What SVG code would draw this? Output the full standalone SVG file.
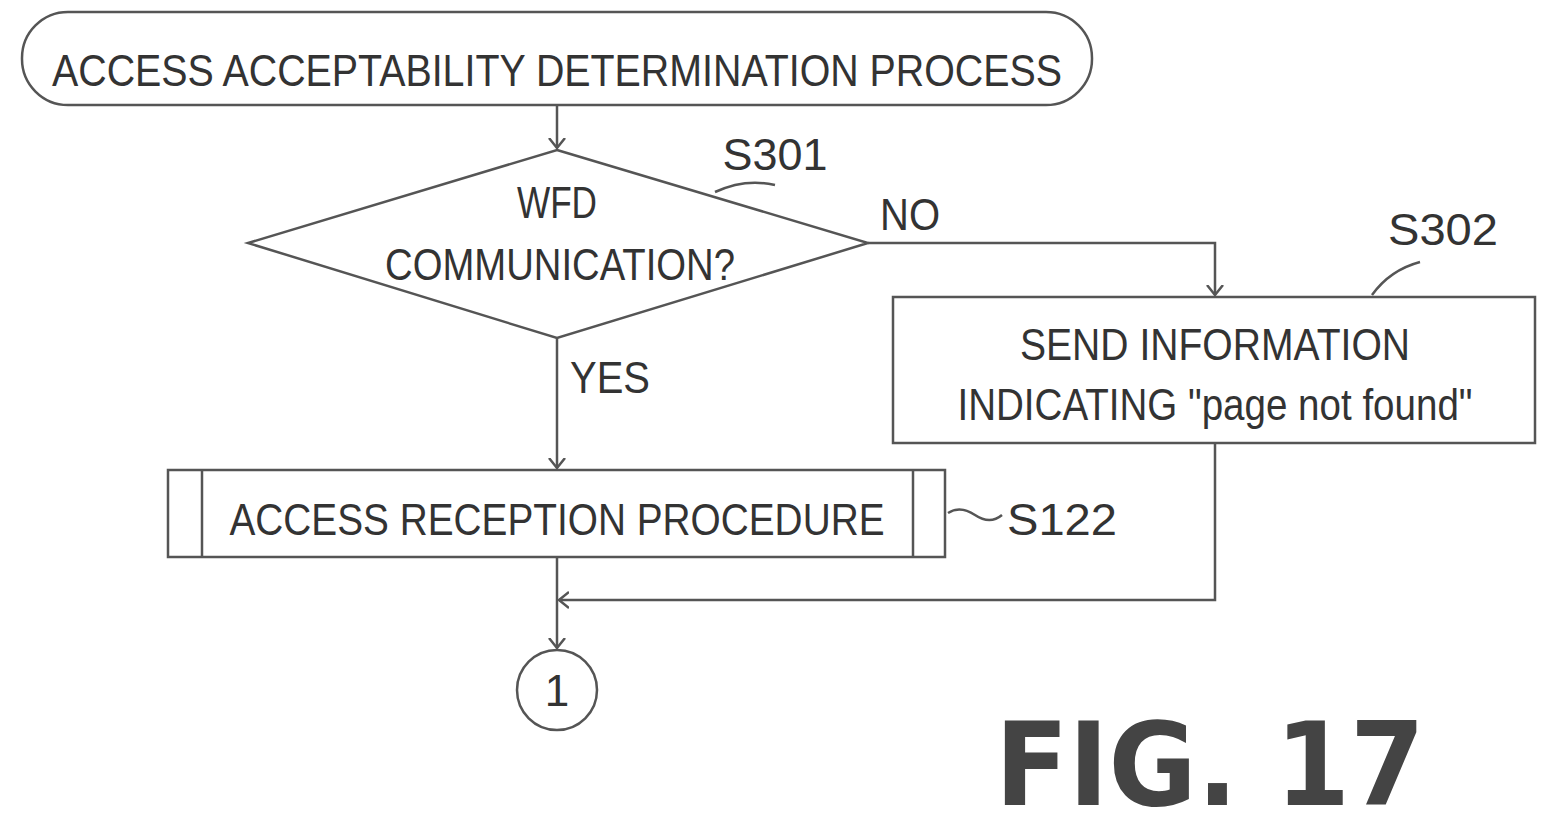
<svg xmlns="http://www.w3.org/2000/svg" width="1559" height="835" viewBox="0 0 1559 835">
<style>
.s{fill:none;stroke:#555;stroke-width:2.5}
.t{font-family:"Liberation Sans",Arial,sans-serif;font-size:44px;fill:#333;text-anchor:middle}
</style>
<defs><marker id="a" markerWidth="20" markerHeight="20" refX="10" refY="10" orient="auto" markerUnits="userSpaceOnUse"><path d="M0,2 L10,10 L0,18" fill="none" stroke="#555" stroke-width="2.5"/></marker></defs>
<rect width="1559" height="835" fill="#fff"/>
<g id="start"><rect class="s" x="22" y="12" width="1070" height="93" rx="46"/><text class="t" x="557" y="86" textLength="1010" lengthAdjust="spacingAndGlyphs">ACCESS ACCEPTABILITY DETERMINATION PROCESS</text></g>
<g id="s301"><polygon class="s" points="557,150 868,243 557,338 248,243"/><text class="t" x="557" y="218" textLength="80" lengthAdjust="spacingAndGlyphs">WFD</text><text class="t" x="560" y="280" textLength="350" lengthAdjust="spacingAndGlyphs">COMMUNICATION?</text><text class="t" x="775" y="170" textLength="105" lengthAdjust="spacingAndGlyphs">S301</text><path class="s" d="M715,192 Q745,178 775,185"/></g>
<g id="s302"><rect class="s" x="893" y="297" width="642" height="146"/><text class="t" x="1215" y="360" textLength="390" lengthAdjust="spacingAndGlyphs">SEND INFORMATION</text><text class="t" x="1215" y="420" textLength="515" lengthAdjust="spacingAndGlyphs">INDICATING "page not found"</text><text class="t" x="1443" y="245" textLength="110" lengthAdjust="spacingAndGlyphs">S302</text><path class="s" d="M1372,295 Q1390,270 1420,262"/></g>
<g id="s122"><rect class="s" x="168" y="470" width="777" height="87"/><line class="s" x1="202" y1="470" x2="202" y2="557"/><line class="s" x1="913" y1="470" x2="913" y2="557"/><text class="t" x="557" y="535" textLength="655" lengthAdjust="spacingAndGlyphs">ACCESS RECEPTION PROCEDURE</text><path class="s" d="M948,513 Q960,505 975,515 T1002,515"/><text class="t" x="1062" y="535" textLength="110" lengthAdjust="spacingAndGlyphs">S122</text></g>
<g id="c1"><circle class="s" cx="557" cy="690" r="40"/><text class="t" x="557" y="706">1</text></g>
<g id="connectors">
<line class="s" x1="557" y1="105" x2="557" y2="148" marker-end="url(#a)"/>
<polyline class="s" points="868,243 1215,243 1215,295" marker-end="url(#a)"/>
<line class="s" x1="557" y1="338" x2="557" y2="468" marker-end="url(#a)"/>
<line class="s" x1="557" y1="557" x2="557" y2="648" marker-end="url(#a)"/>
<polyline class="s" points="1215,443 1215,600 559,600" marker-end="url(#a)"/>
<text class="t" x="910" y="230" textLength="60" lengthAdjust="spacingAndGlyphs">NO</text>
<text class="t" x="610" y="393" textLength="80" lengthAdjust="spacingAndGlyphs">YES</text>
</g>
<text x="1210" y="805" font-family="DejaVu Sans,sans-serif" font-size="115" font-weight="bold" fill="#444" text-anchor="middle" textLength="430" lengthAdjust="spacingAndGlyphs">FIG. 17</text>
</svg>
